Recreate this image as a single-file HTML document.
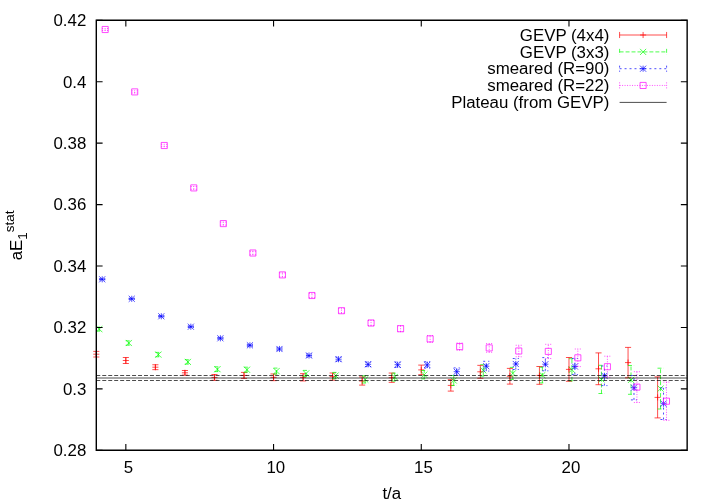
<!DOCTYPE html>
<html><head><meta charset="utf-8"><title>aE1 stat</title>
<style>html,body{margin:0;padding:0;background:#fff}svg{display:block;will-change:transform}text{font-family:"Liberation Sans",sans-serif;font-size:16.85px;fill:#000}</style></head><body>
<svg width="716" height="501" viewBox="0 0 716 501">
<rect width="716" height="501" fill="#fff"/>
<g stroke-width="0.7" fill="none">
<path d="M96.3 357V351.4M93.25 357H99.35M93.25 351.4H99.35" stroke="#f00" fill="none"/>
<path d="M93.25 354.2H99.35M96.3 351.15V357.25" stroke="#f00"/>
<path d="M125.84 363.5V357.5M122.79 363.5H128.89M122.79 357.5H128.89" stroke="#f00" fill="none"/>
<path d="M122.79 360.5H128.89M125.84 357.45V363.55" stroke="#f00"/>
<path d="M155.38 369.65V364.75M152.33 369.65H158.44M152.33 364.75H158.44" stroke="#f00" fill="none"/>
<path d="M152.33 367.2H158.44M155.38 364.15V370.25" stroke="#f00"/>
<path d="M184.93 375.1V370.5M181.88 375.1H187.98M181.88 370.5H187.98" stroke="#f00" fill="none"/>
<path d="M181.88 372.8H187.98M184.93 369.75V375.85" stroke="#f00"/>
<path d="M214.47 380.3V374.5M211.42 380.3H217.52M211.42 374.5H217.52" stroke="#f00" fill="none"/>
<path d="M211.42 377.4H217.52M214.47 374.35V380.45" stroke="#f00"/>
<path d="M244.01 378.4V372.4M240.96 378.4H247.06M240.96 372.4H247.06" stroke="#f00" fill="none"/>
<path d="M240.96 375.4H247.06M244.01 372.35V378.45" stroke="#f00"/>
<path d="M273.56 380.65V373.95M270.5 380.65H276.61M270.5 373.95H276.61" stroke="#f00" fill="none"/>
<path d="M270.5 377.3H276.61M273.56 374.25V380.35" stroke="#f00"/>
<path d="M303.1 380.95V373.65M300.05 380.95H306.15M300.05 373.65H306.15" stroke="#f00" fill="none"/>
<path d="M300.05 377.3H306.15M303.1 374.25V380.35" stroke="#f00"/>
<path d="M332.64 380.2V373M329.59 380.2H335.69M329.59 373H335.69" stroke="#f00" fill="none"/>
<path d="M329.59 376.6H335.69M332.64 373.55V379.65" stroke="#f00"/>
<path d="M362.18 385.1V376.9M359.13 385.1H365.23M359.13 376.9H365.23" stroke="#f00" fill="none"/>
<path d="M359.13 381H365.23M362.18 377.95V384.05" stroke="#f00"/>
<path d="M391.73 382.35V373.05M388.68 382.35H394.78M388.68 373.05H394.78" stroke="#f00" fill="none"/>
<path d="M388.68 377.7H394.78M391.73 374.65V380.75" stroke="#f00"/>
<path d="M421.27 374.7V365.1M418.22 374.7H424.32M418.22 365.1H424.32" stroke="#f00" fill="none"/>
<path d="M418.22 369.9H424.32M421.27 366.85V372.95" stroke="#f00"/>
<path d="M450.81 391.1V379.7M447.76 391.1H453.86M447.76 379.7H453.86" stroke="#f00" fill="none"/>
<path d="M447.76 385.4H453.86M450.81 382.35V388.45" stroke="#f00"/>
<path d="M480.35 378.25V365.35M477.3 378.25H483.4M477.3 365.35H483.4" stroke="#f00" fill="none"/>
<path d="M477.3 371.8H483.4M480.35 368.75V374.85" stroke="#f00"/>
<path d="M509.9 384.1V368.4M506.85 384.1H512.95M506.85 368.4H512.95" stroke="#f00" fill="none"/>
<path d="M506.85 376.25H512.95M509.9 373.2V379.3" stroke="#f00"/>
<path d="M539.44 384.3V366.5M536.39 384.3H542.49M536.39 366.5H542.49" stroke="#f00" fill="none"/>
<path d="M536.39 375.4H542.49M539.44 372.35V378.45" stroke="#f00"/>
<path d="M568.98 381.3V357.5M565.93 381.3H572.03M565.93 357.5H572.03" stroke="#f00" fill="none"/>
<path d="M565.93 369.4H572.03M568.98 366.35V372.45" stroke="#f00"/>
<path d="M598.52 384.7V352.9M595.47 384.7H601.57M595.47 352.9H601.57" stroke="#f00" fill="none"/>
<path d="M595.47 368.8H601.57M598.52 365.75V371.85" stroke="#f00"/>
<path d="M628.06 377.8V347.4M625.01 377.8H631.11M625.01 347.4H631.11" stroke="#f00" fill="none"/>
<path d="M625.01 362.6H631.11M628.06 359.55V365.65" stroke="#f00"/>
<path d="M657.61 417.9V376.9M654.56 417.9H660.66M654.56 376.9H660.66" stroke="#f00" fill="none"/>
<path d="M654.56 397.4H660.66M657.61 394.35V400.45" stroke="#f00"/>
<path d="M99.25 331.1V327.1M96.2 331.1H102.3M96.2 327.1H102.3" stroke="#0f0" fill="none" stroke-dasharray="3.975 1.988"/>
<path d="M96.2 326.05L102.3 332.15M96.2 332.15L102.3 326.05" stroke="#0f0"/>
<path d="M128.8 345.2V340.8M125.75 345.2H131.85M125.75 340.8H131.85" stroke="#0f0" fill="none" stroke-dasharray="3.975 1.988"/>
<path d="M125.75 339.95L131.85 346.05M125.75 346.05L131.85 339.95" stroke="#0f0"/>
<path d="M158.34 356.8V352.4M155.29 356.8H161.39M155.29 352.4H161.39" stroke="#0f0" fill="none" stroke-dasharray="3.975 1.988"/>
<path d="M155.29 351.55L161.39 357.65M155.29 357.65L161.39 351.55" stroke="#0f0"/>
<path d="M187.88 364.1V359.7M184.83 364.1H190.93M184.83 359.7H190.93" stroke="#0f0" fill="none" stroke-dasharray="3.975 1.988"/>
<path d="M184.83 358.85L190.93 364.95M184.83 364.95L190.93 358.85" stroke="#0f0"/>
<path d="M217.42 371.6V366.8M214.37 371.6H220.47M214.37 366.8H220.47" stroke="#0f0" fill="none" stroke-dasharray="3.975 1.988"/>
<path d="M214.37 366.15L220.47 372.25M214.37 372.25L220.47 366.15" stroke="#0f0"/>
<path d="M246.97 372.2V367.2M243.92 372.2H250.02M243.92 367.2H250.02" stroke="#0f0" fill="none" stroke-dasharray="3.975 1.988"/>
<path d="M243.92 366.65L250.02 372.75M243.92 372.75L250.02 366.65" stroke="#0f0"/>
<path d="M276.51 374.1V368.1M273.46 374.1H279.56M273.46 368.1H279.56" stroke="#0f0" fill="none" stroke-dasharray="3.975 1.988"/>
<path d="M273.46 368.05L279.56 374.15M273.46 374.15L279.56 368.05" stroke="#0f0"/>
<path d="M306.05 376.6V370.4M303 376.6H309.1M303 370.4H309.1" stroke="#0f0" fill="none" stroke-dasharray="3.975 1.988"/>
<path d="M303 370.45L309.1 376.55M303 376.55L309.1 370.45" stroke="#0f0"/>
<path d="M335.59 378.8V372.4M332.54 378.8H338.64M332.54 372.4H338.64" stroke="#0f0" fill="none" stroke-dasharray="3.975 1.988"/>
<path d="M332.54 372.55L338.64 378.65M332.54 378.65L338.64 372.55" stroke="#0f0"/>
<path d="M365.14 383V375.8M362.09 383H368.19M362.09 375.8H368.19" stroke="#0f0" fill="none" stroke-dasharray="3.975 1.988"/>
<path d="M362.09 376.35L368.19 382.45M362.09 382.45L368.19 376.35" stroke="#0f0"/>
<path d="M394.68 381.1V373.1M391.63 381.1H397.73M391.63 373.1H397.73" stroke="#0f0" fill="none" stroke-dasharray="3.975 1.988"/>
<path d="M391.63 374.05L397.73 380.15M391.63 380.15L397.73 374.05" stroke="#0f0"/>
<path d="M424.22 378.9V370.5M421.17 378.9H427.27M421.17 370.5H427.27" stroke="#0f0" fill="none" stroke-dasharray="3.975 1.988"/>
<path d="M421.17 371.65L427.27 377.75M421.17 377.75L427.27 371.65" stroke="#0f0"/>
<path d="M453.76 385.5V375.5M450.71 385.5H456.81M450.71 375.5H456.81" stroke="#0f0" fill="none" stroke-dasharray="3.975 1.988"/>
<path d="M450.71 377.45L456.81 383.55M450.71 383.55L456.81 377.45" stroke="#0f0"/>
<path d="M483.31 376.1V364.7M480.26 376.1H486.36M480.26 364.7H486.36" stroke="#0f0" fill="none" stroke-dasharray="3.975 1.988"/>
<path d="M480.26 367.35L486.36 373.45M480.26 373.45L486.36 367.35" stroke="#0f0"/>
<path d="M512.85 379.4V367.4M509.8 379.4H515.9M509.8 367.4H515.9" stroke="#0f0" fill="none" stroke-dasharray="3.975 1.988"/>
<path d="M509.8 370.35L515.9 376.45M509.8 376.45L515.9 370.35" stroke="#0f0"/>
<path d="M542.39 382.9V367.3M539.34 382.9H545.44M539.34 367.3H545.44" stroke="#0f0" fill="none" stroke-dasharray="3.975 1.988"/>
<path d="M539.34 372.05L545.44 378.15M539.34 378.15L545.44 372.05" stroke="#0f0"/>
<path d="M571.93 380.9V358.7M568.88 380.9H574.98M568.88 358.7H574.98" stroke="#0f0" fill="none" stroke-dasharray="3.975 1.988"/>
<path d="M568.88 366.75L574.98 372.85M568.88 372.85L574.98 366.75" stroke="#0f0"/>
<path d="M601.48 393.5V365.3M598.43 393.5H604.53M598.43 365.3H604.53" stroke="#0f0" fill="none" stroke-dasharray="3.975 1.988"/>
<path d="M598.43 376.35L604.53 382.45M598.43 382.45L604.53 376.35" stroke="#0f0"/>
<path d="M631.02 394.3V365.5M627.97 394.3H634.07M627.97 365.5H634.07" stroke="#0f0" fill="none" stroke-dasharray="3.975 1.988"/>
<path d="M627.97 376.85L634.07 382.95M627.97 382.95L634.07 376.85" stroke="#0f0"/>
<path d="M660.56 409V368.2M657.51 409H663.61M657.51 368.2H663.61" stroke="#0f0" fill="none" stroke-dasharray="3.975 1.988"/>
<path d="M657.51 385.55L663.61 391.65M657.51 391.65L663.61 385.55" stroke="#0f0"/>
<path d="M102.21 279.9V278.7M99.16 279.9H105.26M99.16 278.7H105.26" stroke="#00f" fill="none" stroke-dasharray="1.988 2.981"/>
<path d="M99.16 276.25L105.26 282.35M99.16 282.35L105.26 276.25M102.21 276.25V282.35M99.16 279.3H105.26" stroke="#00f"/>
<path d="M131.75 299.4V298.2M128.7 299.4H134.8M128.7 298.2H134.8" stroke="#00f" fill="none" stroke-dasharray="1.988 2.981"/>
<path d="M128.7 295.75L134.8 301.85M128.7 301.85L134.8 295.75M131.75 295.75V301.85M128.7 298.8H134.8" stroke="#00f"/>
<path d="M161.29 317V315.6M158.24 317H164.34M158.24 315.6H164.34" stroke="#00f" fill="none" stroke-dasharray="1.988 2.981"/>
<path d="M158.24 313.25L164.34 319.35M158.24 319.35L164.34 313.25M161.29 313.25V319.35M158.24 316.3H164.34" stroke="#00f"/>
<path d="M190.84 327.5V325.9M187.79 327.5H193.89M187.79 325.9H193.89" stroke="#00f" fill="none" stroke-dasharray="1.988 2.981"/>
<path d="M187.79 323.65L193.89 329.75M187.79 329.75L193.89 323.65M190.84 323.65V329.75M187.79 326.7H193.89" stroke="#00f"/>
<path d="M220.38 339.2V337.4M217.33 339.2H223.43M217.33 337.4H223.43" stroke="#00f" fill="none" stroke-dasharray="1.988 2.981"/>
<path d="M217.33 335.25L223.43 341.35M217.33 341.35L223.43 335.25M220.38 335.25V341.35M217.33 338.3H223.43" stroke="#00f"/>
<path d="M249.92 346.3V344.3M246.87 346.3H252.97M246.87 344.3H252.97" stroke="#00f" fill="none" stroke-dasharray="1.988 2.981"/>
<path d="M246.87 342.25L252.97 348.35M246.87 348.35L252.97 342.25M249.92 342.25V348.35M246.87 345.3H252.97" stroke="#00f"/>
<path d="M279.46 350.2V347.8M276.41 350.2H282.51M276.41 347.8H282.51" stroke="#00f" fill="none" stroke-dasharray="1.988 2.981"/>
<path d="M276.41 345.95L282.51 352.05M276.41 352.05L282.51 345.95M279.46 345.95V352.05M276.41 349H282.51" stroke="#00f"/>
<path d="M309.01 357V354M305.96 357H312.06M305.96 354H312.06" stroke="#00f" fill="none" stroke-dasharray="1.988 2.981"/>
<path d="M305.96 352.45L312.06 358.55M305.96 358.55L312.06 352.45M309.01 352.45V358.55M305.96 355.5H312.06" stroke="#00f"/>
<path d="M338.55 361.2V357.2M335.5 361.2H341.6M335.5 357.2H341.6" stroke="#00f" fill="none" stroke-dasharray="1.988 2.981"/>
<path d="M335.5 356.15L341.6 362.25M335.5 362.25L341.6 356.15M338.55 356.15V362.25M335.5 359.2H341.6" stroke="#00f"/>
<path d="M368.09 366.6V362M365.04 366.6H371.14M365.04 362H371.14" stroke="#00f" fill="none" stroke-dasharray="1.988 2.981"/>
<path d="M365.04 361.25L371.14 367.35M365.04 367.35L371.14 361.25M368.09 361.25V367.35M365.04 364.3H371.14" stroke="#00f"/>
<path d="M397.63 367.4V362M394.58 367.4H400.68M394.58 362H400.68" stroke="#00f" fill="none" stroke-dasharray="1.988 2.981"/>
<path d="M394.58 361.65L400.68 367.75M394.58 367.75L400.68 361.65M397.63 361.65V367.75M394.58 364.7H400.68" stroke="#00f"/>
<path d="M427.18 368.1V361.7M424.13 368.1H430.23M424.13 361.7H430.23" stroke="#00f" fill="none" stroke-dasharray="1.988 2.981"/>
<path d="M424.13 361.85L430.23 367.95M424.13 367.95L430.23 361.85M427.18 361.85V367.95M424.13 364.9H430.23" stroke="#00f"/>
<path d="M456.72 375.5V367.9M453.67 375.5H459.77M453.67 367.9H459.77" stroke="#00f" fill="none" stroke-dasharray="1.988 2.981"/>
<path d="M453.67 368.65L459.77 374.75M453.67 374.75L459.77 368.65M456.72 368.65V374.75M453.67 371.7H459.77" stroke="#00f"/>
<path d="M486.26 371.1V361.3M483.21 371.1H489.31M483.21 361.3H489.31" stroke="#00f" fill="none" stroke-dasharray="1.988 2.981"/>
<path d="M483.21 363.15L489.31 369.25M483.21 369.25L489.31 363.15M486.26 363.15V369.25M483.21 366.2H489.31" stroke="#00f"/>
<path d="M515.8 369.5V358.5M512.75 369.5H518.85M512.75 358.5H518.85" stroke="#00f" fill="none" stroke-dasharray="1.988 2.981"/>
<path d="M512.75 360.95L518.85 367.05M512.75 367.05L518.85 360.95M515.8 360.95V367.05M512.75 364H518.85" stroke="#00f"/>
<path d="M545.35 370.8V357.6M542.3 370.8H548.4M542.3 357.6H548.4" stroke="#00f" fill="none" stroke-dasharray="1.988 2.981"/>
<path d="M542.3 361.15L548.4 367.25M542.3 367.25L548.4 361.15M545.35 361.15V367.25M542.3 364.2H548.4" stroke="#00f"/>
<path d="M574.89 374.6V358.4M571.84 374.6H577.94M571.84 358.4H577.94" stroke="#00f" fill="none" stroke-dasharray="1.988 2.981"/>
<path d="M571.84 363.45L577.94 369.55M571.84 369.55L577.94 363.45M574.89 363.45V369.55M571.84 366.5H577.94" stroke="#00f"/>
<path d="M604.43 385.6V366M601.38 385.6H607.48M601.38 366H607.48" stroke="#00f" fill="none" stroke-dasharray="1.988 2.981"/>
<path d="M601.38 372.75L607.48 378.85M601.38 378.85L607.48 372.75M604.43 372.75V378.85M601.38 375.8H607.48" stroke="#00f"/>
<path d="M633.97 399.9V375.5M630.92 399.9H637.02M630.92 375.5H637.02" stroke="#00f" fill="none" stroke-dasharray="1.988 2.981"/>
<path d="M630.92 384.65L637.02 390.75M630.92 390.75L637.02 384.65M633.97 384.65V390.75M630.92 387.7H637.02" stroke="#00f"/>
<path d="M663.52 419.5V387.9M660.47 419.5H666.57M660.47 387.9H666.57" stroke="#00f" fill="none" stroke-dasharray="1.988 2.981"/>
<path d="M660.47 400.65L666.57 406.75M660.47 406.75L666.57 400.65M663.52 400.65V406.75M660.47 403.7H666.57" stroke="#00f"/>
<path d="M105.16 30.5V28.5M102.11 30.5H108.21M102.11 28.5H108.21" stroke="#f0f" fill="none" stroke-dasharray="0.994 1.491"/>
<path d="M102.11 26.45H108.21V32.55H102.11Z" stroke="#f0f" fill="none"/>
<path d="M134.71 93V90.8M131.66 93H137.76M131.66 90.8H137.76" stroke="#f0f" fill="none" stroke-dasharray="0.994 1.491"/>
<path d="M131.66 88.85H137.76V94.95H131.66Z" stroke="#f0f" fill="none"/>
<path d="M164.25 146.7V144.3M161.2 146.7H167.3M161.2 144.3H167.3" stroke="#f0f" fill="none" stroke-dasharray="0.994 1.491"/>
<path d="M161.2 142.45H167.3V148.55H161.2Z" stroke="#f0f" fill="none"/>
<path d="M193.79 189.3V186.5M190.74 189.3H196.84M190.74 186.5H196.84" stroke="#f0f" fill="none" stroke-dasharray="0.994 1.491"/>
<path d="M190.74 184.85H196.84V190.95H190.74Z" stroke="#f0f" fill="none"/>
<path d="M223.33 225.1V222.1M220.28 225.1H226.38M220.28 222.1H226.38" stroke="#f0f" fill="none" stroke-dasharray="0.994 1.491"/>
<path d="M220.28 220.55H226.38V226.65H220.28Z" stroke="#f0f" fill="none"/>
<path d="M252.88 254.7V251.3M249.83 254.7H255.93M249.83 251.3H255.93" stroke="#f0f" fill="none" stroke-dasharray="0.994 1.491"/>
<path d="M249.83 249.95H255.93V256.05H249.83Z" stroke="#f0f" fill="none"/>
<path d="M282.42 276.9V272.9M279.37 276.9H285.47M279.37 272.9H285.47" stroke="#f0f" fill="none" stroke-dasharray="0.994 1.491"/>
<path d="M279.37 271.85H285.47V277.95H279.37Z" stroke="#f0f" fill="none"/>
<path d="M311.96 297.7V293.3M308.91 297.7H315.01M308.91 293.3H315.01" stroke="#f0f" fill="none" stroke-dasharray="0.994 1.491"/>
<path d="M308.91 292.45H315.01V298.55H308.91Z" stroke="#f0f" fill="none"/>
<path d="M341.5 313.1V308.3M338.45 313.1H344.55M338.45 308.3H344.55" stroke="#f0f" fill="none" stroke-dasharray="0.994 1.491"/>
<path d="M338.45 307.65H344.55V313.75H338.45Z" stroke="#f0f" fill="none"/>
<path d="M371.05 325.6V320.4M368 325.6H374.1M368 320.4H374.1" stroke="#f0f" fill="none" stroke-dasharray="0.994 1.491"/>
<path d="M368 319.95H374.1V326.05H368Z" stroke="#f0f" fill="none"/>
<path d="M400.59 331.7V325.7M397.54 331.7H403.64M397.54 325.7H403.64" stroke="#f0f" fill="none" stroke-dasharray="0.994 1.491"/>
<path d="M397.54 325.65H403.64V331.75H397.54Z" stroke="#f0f" fill="none"/>
<path d="M430.13 342.3V335.5M427.08 342.3H433.18M427.08 335.5H433.18" stroke="#f0f" fill="none" stroke-dasharray="0.994 1.491"/>
<path d="M427.08 335.85H433.18V341.95H427.08Z" stroke="#f0f" fill="none"/>
<path d="M459.67 350.2V343M456.62 350.2H462.72M456.62 343H462.72" stroke="#f0f" fill="none" stroke-dasharray="0.994 1.491"/>
<path d="M456.62 343.55H462.72V349.65H456.62Z" stroke="#f0f" fill="none"/>
<path d="M489.22 352.3V343.5M486.17 352.3H492.27M486.17 343.5H492.27" stroke="#f0f" fill="none" stroke-dasharray="0.994 1.491"/>
<path d="M486.17 344.85H492.27V350.95H486.17Z" stroke="#f0f" fill="none"/>
<path d="M518.76 356.75V345.25M515.71 356.75H521.81M515.71 345.25H521.81" stroke="#f0f" fill="none" stroke-dasharray="0.994 1.491"/>
<path d="M515.71 347.95H521.81V354.05H515.71Z" stroke="#f0f" fill="none"/>
<path d="M548.3 358.5V344.3M545.25 358.5H551.35M545.25 344.3H551.35" stroke="#f0f" fill="none" stroke-dasharray="0.994 1.491"/>
<path d="M545.25 348.35H551.35V354.45H545.25Z" stroke="#f0f" fill="none"/>
<path d="M577.84 366.6V349M574.79 366.6H580.89M574.79 349H580.89" stroke="#f0f" fill="none" stroke-dasharray="0.994 1.491"/>
<path d="M574.79 354.75H580.89V360.85H574.79Z" stroke="#f0f" fill="none"/>
<path d="M607.39 377.2V356.2M604.34 377.2H610.44M604.34 356.2H610.44" stroke="#f0f" fill="none" stroke-dasharray="0.994 1.491"/>
<path d="M604.34 363.65H610.44V369.75H604.34Z" stroke="#f0f" fill="none"/>
<path d="M636.93 402.5V371.7M633.88 402.5H639.98M633.88 371.7H639.98" stroke="#f0f" fill="none" stroke-dasharray="0.994 1.491"/>
<path d="M633.88 384.05H639.98V390.15H633.88Z" stroke="#f0f" fill="none"/>
<path d="M666.47 420.3V382.1M663.42 420.3H669.52M663.42 382.1H669.52" stroke="#f0f" fill="none" stroke-dasharray="0.994 1.491"/>
<path d="M663.42 398.15H669.52V404.25H663.42Z" stroke="#f0f" fill="none"/>
</g>
<g stroke="#000" stroke-width="0.7" fill="none">
<path d="M96.3 378H687.15"/>
<path d="M96.3 375.5H687.15M96.3 380.5H687.15" stroke-dasharray="3.975 1.988"/>
</g>
<g stroke="#000" stroke-width="1.1" fill="none">
<path d="M96.3 20.3H687.15V450.3H96.3Z" stroke-width="1.4"/>
<path d="M96.3 450.3h6.3M687.15 450.3h-6.3M96.3 388.87h6.3M687.15 388.87h-6.3M96.3 327.44h6.3M687.15 327.44h-6.3M96.3 266.01h6.3M687.15 266.01h-6.3M96.3 204.59h6.3M687.15 204.59h-6.3M96.3 143.16h6.3M687.15 143.16h-6.3M96.3 81.73h6.3M687.15 81.73h-6.3M96.3 20.3h6.3M687.15 20.3h-6.3M125.84 450.3v-6.3M125.84 20.3v6.3M273.56 450.3v-6.3M273.56 20.3v6.3M421.27 450.3v-6.3M421.27 20.3v6.3M568.98 450.3v-6.3M568.98 20.3v6.3"/>
</g>
<text x="86.3" y="456.1" text-anchor="end">0.28</text>
<text x="86.3" y="394.67" text-anchor="end">0.3</text>
<text x="86.3" y="333.24" text-anchor="end">0.32</text>
<text x="86.3" y="271.81" text-anchor="end">0.34</text>
<text x="86.3" y="210.39" text-anchor="end">0.36</text>
<text x="86.3" y="148.96" text-anchor="end">0.38</text>
<text x="86.3" y="87.53" text-anchor="end">0.4</text>
<text x="86.3" y="26.1" text-anchor="end">0.42</text>
<text x="128.34" y="472.9" text-anchor="middle">5</text>
<text x="275.86" y="472.9" text-anchor="middle">10</text>
<text x="423.47" y="472.9" text-anchor="middle">15</text>
<text x="570.98" y="472.9" text-anchor="middle">20</text>
<text x="391.8" y="498.5" text-anchor="middle">t/a</text>
<text transform="translate(22.4 260.3) rotate(-90)">aE<tspan font-size="13.5px" dy="5">1</tspan><tspan font-size="13.5px" dy="-13.4">stat</tspan></text>
<text x="609.4" y="40.6" text-anchor="end">GEVP (4x4)</text>
<g stroke="#f00" stroke-width="0.7" fill="none">
<path d="M619.6 35H666.6"/>
<path d="M619.6 31.95v6.1M666.6 31.95v6.1"/>
<path d="M640.05 35H646.15M643.1 31.95V38.05" stroke="#f00"/>
</g>
<text x="609.4" y="57.5" text-anchor="end">GEVP (3x3)</text>
<g stroke="#0f0" stroke-width="0.7" fill="none">
<path d="M619.6 51.9H666.6" stroke-dasharray="3.975 1.988"/>
<path d="M619.6 48.85v6.1M666.6 48.85v6.1" stroke-dasharray="3.975 1.988"/>
<path d="M640.05 48.85L646.15 54.95M640.05 54.95L646.15 48.85" stroke="#0f0"/>
</g>
<text x="609.4" y="74.3" text-anchor="end">smeared (R=90)</text>
<g stroke="#00f" stroke-width="0.7" fill="none">
<path d="M619.6 68.7H666.6" stroke-dasharray="1.988 2.981"/>
<path d="M619.6 65.65v6.1M666.6 65.65v6.1" stroke-dasharray="1.988 2.981"/>
<path d="M640.05 65.65L646.15 71.75M640.05 71.75L646.15 65.65M643.1 65.65V71.75M640.05 68.7H646.15" stroke="#00f"/>
</g>
<text x="609.4" y="91.05" text-anchor="end">smeared (R=22)</text>
<g stroke="#f0f" stroke-width="0.7" fill="none">
<path d="M619.6 85.45H666.6" stroke-dasharray="0.994 1.491"/>
<path d="M619.6 82.4v6.1M666.6 82.4v6.1" stroke-dasharray="0.994 1.491"/>
<path d="M640.05 82.4H646.15V88.5H640.05Z" stroke="#f0f" fill="none"/>
</g>
<text x="609.4" y="108" text-anchor="end">Plateau (from GEVP)</text>
<g stroke="#000" stroke-width="0.7" fill="none">
<path d="M619.6 102.4H666.6"/>
</g>
</svg></body></html>
